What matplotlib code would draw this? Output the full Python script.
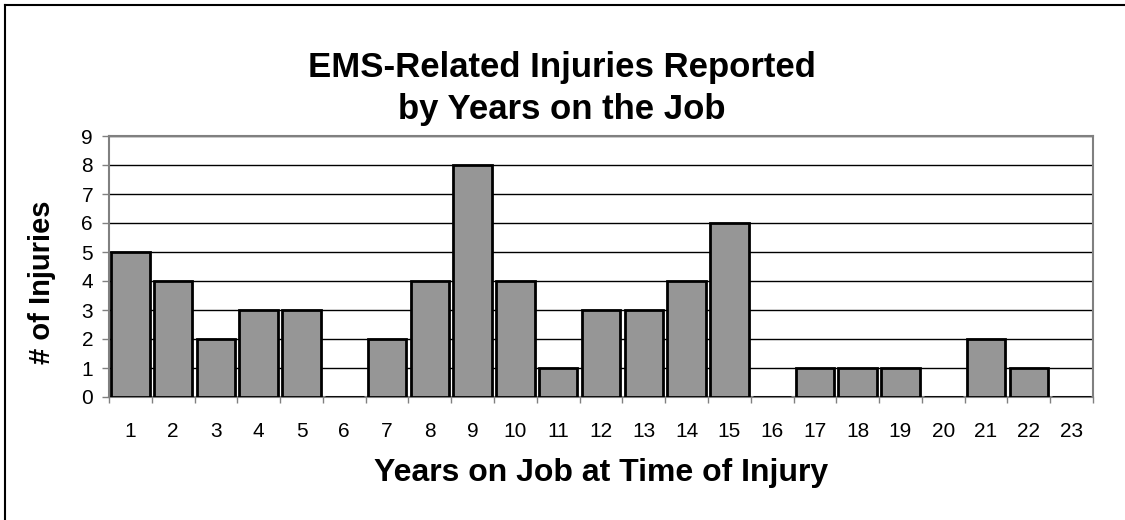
import matplotlib
matplotlib.use("Agg")
import matplotlib.pyplot as plt
from matplotlib.lines import Line2D

years = list(range(1, 24))
injuries = [5, 4, 2, 3, 3, 0, 2, 4, 8, 4, 1, 3, 3, 4, 6, 0, 1, 1, 1, 0, 2, 1, 0]
yticks = list(range(0, 10))

plt.rcParams['font.family'] = ['Liberation Sans', 'DejaVu Sans']

fig = plt.figure(figsize=(11.25, 5.2), dpi=100)
ax = fig.add_axes([109/1125, 1-397/520, (1093-109)/1125, (397-136)/520])

ax.bar(years, injuries, width=0.9, color='#969696', edgecolor='black', linewidth=2, zorder=3)
ax.set_xlim(0.5, 23.5)
ax.set_ylim(0, 9)
ax.set_yticks(yticks)
ax.set_yticklabels([str(v) for v in yticks], fontsize=15)
ax.yaxis.grid(True, color='black', linewidth=1, zorder=0)
ax.set_axisbelow(True)

ax.set_xticks(years)
ax.set_xticklabels([str(y) for y in years], fontsize=15)
ax.tick_params(axis='x', length=0, pad=18)
ax.set_xticks([y + 0.5 for y in [0] + years], minor=True)
ax.tick_params(axis='x', which='minor', length=4.5, width=1, color='#808080')
ax.tick_params(axis='y', length=5, width=1, color='#808080', pad=6.5)

for s in ax.spines.values():
    s.set_color('#808080')
    s.set_linewidth(1.5)

fig.text(562/1125, 1-67/520, 'EMS-Related Injuries Reported', ha='center', va='center',
         fontsize=25, fontweight='bold')
fig.text(562/1125, 1-109/520, 'by Years on the Job', ha='center', va='center',
         fontsize=25, fontweight='bold')
fig.text(601/1125, 1-473/520, 'Years on Job at Time of Injury', ha='center', va='center',
         fontsize=23, fontweight='bold')
fig.text(42/1125, 1-282/520, '# of Injuries', ha='center', va='center', rotation=90,
         fontsize=21, fontweight='bold')

fig.add_artist(Line2D([5/1125, 5/1125], [0, 1-5/520], transform=fig.transFigure, color='black', linewidth=1.5))
fig.add_artist(Line2D([5/1125, 1], [1-5/520, 1-5/520], transform=fig.transFigure, color='black', linewidth=1.5))

fig.savefig('out.png', dpi=100)
